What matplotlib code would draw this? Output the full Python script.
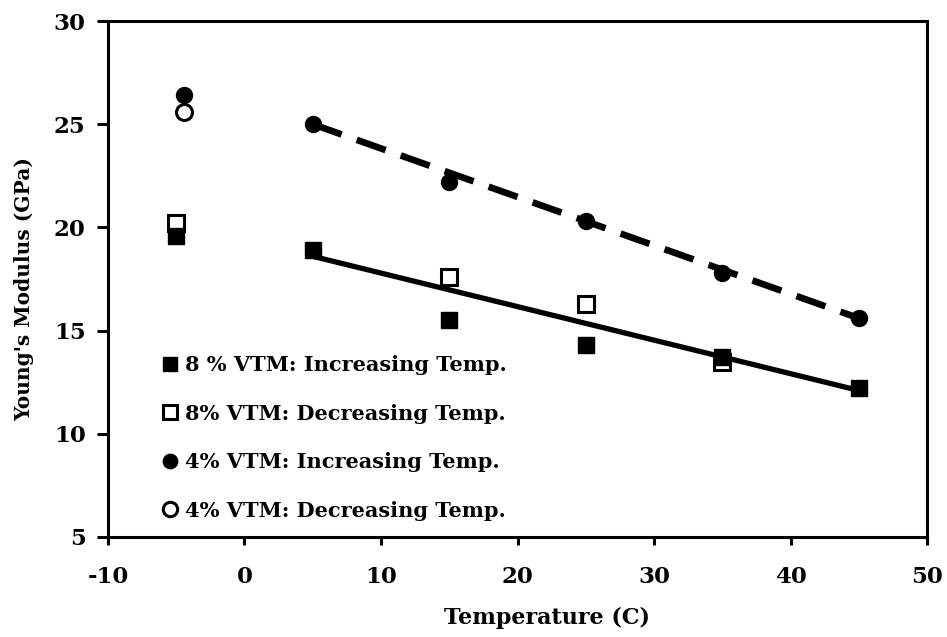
import matplotlib
matplotlib.use('Agg')
import matplotlib.pyplot as plt

plt.rcParams['font.family'] = ['DejaVu Serif']
plt.rcParams['font.weight'] = 'bold'
plt.rcParams['axes.unicode_minus'] = False

# ── data ──
x_8inc = [-5, 5, 15, 25, 35, 45]
y_8inc = [19.6, 18.9, 15.5, 14.3, 13.7, 12.2]
x_8dec = [-5, 15, 25, 35]
y_8dec = [20.2, 17.6, 16.3, 13.5]
x_4inc = [-4.4, 5, 15, 25, 35, 45]
y_4inc = [26.4, 25.0, 22.2, 20.3, 17.8, 15.6]
x_4dec = [-4.4]
y_4dec = [25.6]

# trend line end points
fit_x = [5, 45]
fit_8 = [18.6, 12.1]
fit_4 = [25.0, 15.6]

labels = ['8 % VTM: Increasing Temp.', '8% VTM: Decreasing Temp.',
          '4% VTM: Increasing Temp.', '4% VTM: Decreasing Temp.']

fig = plt.figure(figsize=(9.47, 6.37), dpi=100)
ax = fig.add_axes([0.114, 0.157, 0.865, 0.81])

ax.plot(fit_x, fit_8, '-', color='black', lw=3.8, zorder=2)
ax.plot(fit_x, fit_4, '--', color='black', lw=4.8, dashes=(4.6, 2.4), zorder=2)

h1, = ax.plot(x_8dec, y_8dec, 's', ms=11, mfc='white', mec='black', mew=2.2, ls='none', zorder=3)
h2, = ax.plot(x_8inc, y_8inc, 's', ms=11, mfc='black', mec='black', ls='none', zorder=4)
h3, = ax.plot(x_4inc, y_4inc, 'o', ms=11.5, mfc='black', mec='black', ls='none', zorder=4)
h4, = ax.plot(x_4dec, y_4dec, 'o', ms=11.5, mfc='white', mec='black', mew=2.2, ls='none', zorder=3)

ax.legend([h2, h1, h3, h4], labels, loc='upper left',
          bbox_to_anchor=(162 / 947, 1 - 355 / 637), bbox_transform=fig.transFigure,
          frameon=False, borderpad=0, borderaxespad=0, handlelength=0.8, handletextpad=0.3,
          labelspacing=1.37, prop={'size': 15, 'weight': 'bold'}, markerscale=0.9)

ax.set_xlim(-10, 50)
ax.set_ylim(5, 30)
ax.set_xticks(range(-10, 51, 10))
ax.set_yticks(range(5, 31, 5))
ax.tick_params(axis='x', direction='out', length=6, width=2.2, labelsize=16.5, pad=15)
ax.tick_params(axis='y', direction='out', length=8, width=2.2, labelsize=16.5, pad=8)
for lab in ax.get_xticklabels() + ax.get_yticklabels():
    lab.set_fontweight('bold')
for s in ax.spines.values():
    s.set_linewidth(2.2)

fig.text(547 / 947, 1 - 618 / 637, 'Temperature (C)', fontsize=16, fontweight='bold',
         ha='center', va='center')
fig.text(24 / 947, 1 - 289 / 637, "Young's Modulus (GPa)", fontsize=14.5, fontweight='bold',
         ha='center', va='center', rotation=90)

plt.savefig('out.png', dpi=100)
plt.close()
